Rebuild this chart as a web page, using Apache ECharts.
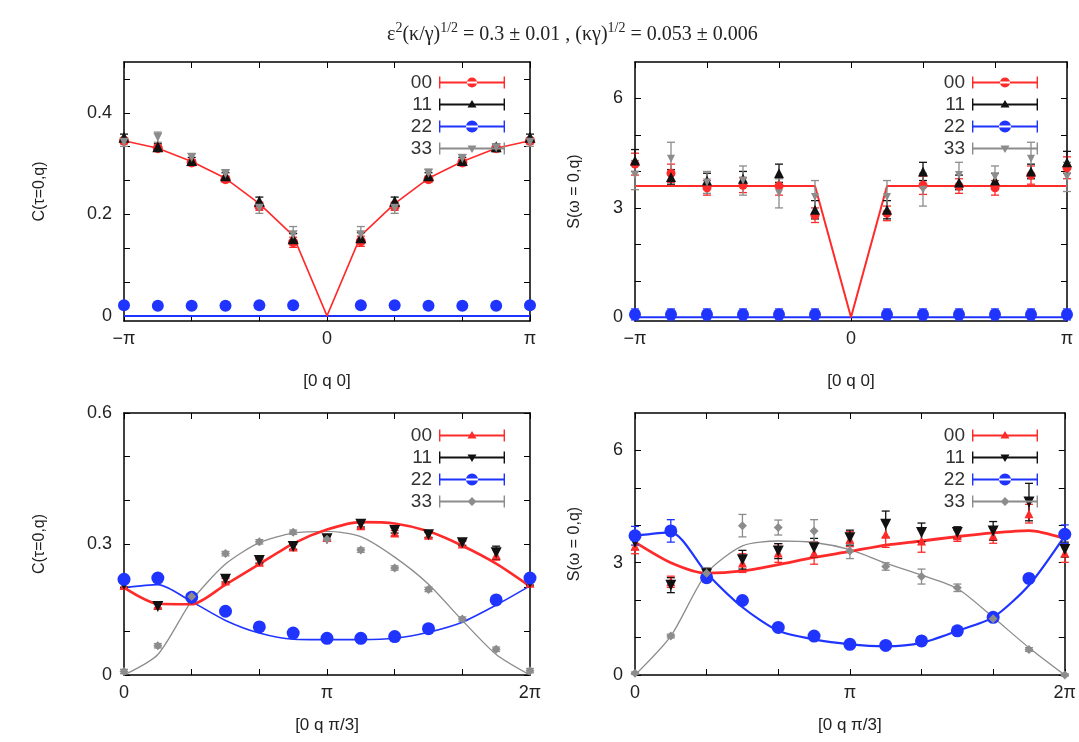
<!DOCTYPE html>
<html>
<head>
<meta charset="utf-8">
<script src="https://cdn.jsdelivr.net/npm/echarts@6/dist/echarts.min.js"></script>
<style>
  html, body { margin: 0; padding: 0; background: #fff; }
  #chartmain { width: 1079px; height: 742px; }
</style>
</head>
<body>
<div id="chartmain"></div>
<script>
// q in units of pi/6
var qTop = [-6, -5, -4, -3, -2, -1, 1, 2, 3, 4, 5, 6]
var qTopFit = [-6, -5, -4, -3, -2, -1, 0, 1, 2, 3, 4, 5, 6]
var qBot = [0, 1, 2, 3, 4, 5, 6, 7, 8, 9, 10, 11, 12]

// top left: C(tau=0,q) along [0 q 0]
var tlC00 = [0.345, 0.330, 0.302, 0.269, 0.216, 0.145, 0.147, 0.216, 0.269, 0.302, 0.330, 0.345]
var tlC00err = [0.006, 0.006, 0.006, 0.006, 0.008, 0.010, 0.010, 0.008, 0.006, 0.006, 0.006, 0.006]
var tlC11 = [0.352, 0.333, 0.306, 0.276, 0.226, 0.152, 0.154, 0.226, 0.276, 0.306, 0.333, 0.352]
var tlC11err = [0.006, 0.006, 0.006, 0.006, 0.008, 0.010, 0.010, 0.008, 0.006, 0.006, 0.006, 0.006]
var tlC22 = [0.021, 0.020, 0.020, 0.020, 0.021, 0.021, 0.021, 0.021, 0.020, 0.020, 0.020, 0.021]
var tlC22err = [0.003, 0.003, 0.003, 0.003, 0.003, 0.003, 0.003, 0.003, 0.003, 0.003, 0.003, 0.003]
var tlC33 = [0.342, 0.352, 0.312, 0.280, 0.212, 0.160, 0.160, 0.212, 0.281, 0.310, 0.331, 0.342]
var tlC33err = [0.008, 0.010, 0.008, 0.008, 0.010, 0.016, 0.016, 0.010, 0.008, 0.008, 0.008, 0.008]
var tlFit00 = [0.345, 0.330, 0.304, 0.271, 0.221, 0.158, 0, 0.158, 0.221, 0.271, 0.304, 0.330, 0.345]
var tlFit22 = [0, 0, 0, 0, 0, 0, 0, 0, 0, 0, 0, 0, 0]

// top right: S(w=0,q) along [0 q 0]
var trS00 = [4.20, 3.95, 3.55, 3.62, 3.60, 2.80, 2.85, 3.62, 3.60, 3.55, 3.90, 4.10]
var trS00err = [0.30, 0.25, 0.20, 0.20, 0.25, 0.20, 0.20, 0.25, 0.20, 0.20, 0.25, 0.30]
var trS11 = [4.30, 3.85, 3.75, 3.80, 3.95, 2.95, 2.95, 4.00, 3.70, 3.75, 4.00, 4.25]
var trS11err = [0.30, 0.20, 0.20, 0.20, 0.25, 0.25, 0.25, 0.25, 0.20, 0.20, 0.20, 0.30]
var trS22 = [0.08, 0.08, 0.08, 0.08, 0.08, 0.08, 0.08, 0.08, 0.08, 0.08, 0.08, 0.08]
var trS22err = [0.15, 0.15, 0.15, 0.15, 0.15, 0.15, 0.15, 0.15, 0.15, 0.15, 0.15, 0.15]
var trS33 = [3.90, 4.35, 3.70, 3.75, 3.40, 3.30, 3.30, 3.50, 3.90, 3.85, 4.35, 3.85]
var trS33err = [0.40, 0.45, 0.30, 0.40, 0.40, 0.45, 0.45, 0.45, 0.35, 0.30, 0.45, 0.40]
var trFit00 = [3.6, 3.6, 3.6, 3.6, 3.6, 3.6, 0, 3.6, 3.6, 3.6, 3.6, 3.6, 3.6]
var trFit22 = [0, 0, 0, 0, 0, 0, 0, 0, 0, 0, 0, 0, 0]

// bottom left: C(tau=0,q) along [0 q pi/3]
var blC00 = [0.205, 0.160, 0.172, 0.215, 0.258, 0.293, 0.315, 0.342, 0.325, 0.320, 0.300, 0.275, 0.210]
var blC00err = [0.006, 0.006, 0.006, 0.006, 0.006, 0.006, 0.006, 0.006, 0.006, 0.006, 0.006, 0.012, 0.006]
var blC11 = [0.207, 0.157, 0.174, 0.219, 0.262, 0.294, 0.312, 0.345, 0.331, 0.321, 0.303, 0.280, 0.212]
var blC11err = [0.006, 0.006, 0.006, 0.006, 0.006, 0.006, 0.006, 0.006, 0.006, 0.006, 0.006, 0.015, 0.006]
var blC22 = [0.219, 0.222, 0.178, 0.146, 0.110, 0.096, 0.084, 0.084, 0.088, 0.106, null, 0.172, 0.222]
var blC22err = [0.004, 0.004, 0.004, 0.004, 0.004, 0.004, 0.004, 0.004, 0.004, 0.004, 0.004, 0.004, 0.004]
var blC33 = [0.008, 0.067, 0.180, 0.278, 0.305, 0.327, 0.311, 0.286, 0.245, 0.196, 0.128, 0.059, 0.010]
var blC33err = [0.005, 0.005, 0.005, 0.005, 0.005, 0.005, 0.005, 0.005, 0.005, 0.005, 0.005, 0.005, 0.005]
var blFit00 = [0.200, 0.163, 0.162, 0.207, 0.254, 0.301, 0.333, 0.350, 0.347, 0.329, 0.296, 0.255, 0.203]
var blFit22 = [0.200, 0.207, 0.168, 0.125, 0.096, 0.082, 0.081, 0.081, 0.084, 0.098, 0.121, 0.160, 0.204]
var blFit33 = [0.0, 0.047, 0.170, 0.254, 0.303, 0.325, 0.329, 0.317, 0.270, 0.208, 0.125, 0.047, 0.0]

// bottom right: S(w=0,q) along [0 q pi/3]
var brS00 = [3.44, 2.49, 2.70, 2.99, 3.26, 3.26, 3.63, 3.76, 3.58, 3.72, 3.72, 4.31, 3.26]
var brS00err = [0.20, 0.15, 0.15, 0.25, 0.25, 0.30, 0.20, 0.35, 0.30, 0.15, 0.20, 0.25, 0.25]
var brS11 = [3.55, 2.40, 2.70, 3.08, 3.31, 3.40, 3.67, 4.03, 3.81, 3.81, 3.85, 4.62, 3.35]
var brS11err = [0.20, 0.20, 0.15, 0.25, 0.20, 0.25, 0.20, 0.35, 0.25, 0.15, 0.25, 0.50, 0.20]
var brS22 = [3.72, 3.85, 2.60, 1.99, 1.27, 1.04, 0.82, 0.79, 0.91, 1.18, 1.54, 2.58, 3.76]
var brS22err = [0.25, 0.30, 0.10, 0.10, 0.08, 0.08, 0.06, 0.06, 0.06, 0.08, 0.10, 0.12, 0.25]
var brS33 = [0.05, 1.04, 2.72, 3.99, 3.94, 3.85, 3.31, 2.90, 2.63, 2.33, 1.50, 0.68, 0.0]
var brS33err = [0.03, 0.05, 0.15, 0.30, 0.20, 0.30, 0.20, 0.10, 0.20, 0.10, 0.08, 0.05, 0.03]
var brFit00 = [3.55, 3.00, 2.72, 2.78, 2.95, 3.14, 3.30, 3.47, 3.58, 3.70, 3.80, 3.86, 3.65]
var brFit22 = [3.72, 3.81, 2.72, 1.81, 1.18, 0.95, 0.82, 0.77, 0.86, 1.18, 1.54, 2.40, 3.72]
var brFit33 = [0, 1.04, 2.72, 3.45, 3.58, 3.54, 3.35, 2.99, 2.67, 2.31, 1.54, 0.73, 0]

// ticks
var xTicksTop = [-6, -4, -2, 0, 2, 4, 6]
var xLabelsTop = [-6, 0, 6]
var xTicksBot = [0, 2, 4, 6, 8, 10, 12]
var xLabelsBot = [0, 6, 12]
var yTicksC0 = [0, 0.0667, 0.1333, 0.2, 0.2667, 0.3333, 0.4, 0.4667]
var yLabelsC0 = [0, 0.2, 0.4]
var yTicksS = [0, 1, 2, 3, 4, 5, 6]
var yLabelsS = [0, 3, 6]
var yTicksC = [0, 0.1, 0.2, 0.3, 0.4, 0.5, 0.6]
var yLabelsC = [0, 0.3, 0.6]
var piText = { '-6': '\u2212\u03c0', '0': '0', '6': '\u03c0', '12': '2\u03c0' }

var RED = '#ff2a2a', BLACK = '#111111', BLUE = '#1f35ff', GRAY = '#8c8c8c'
var FONT = 'Liberation Sans'

function pts(xs, ys) {
  var out = []
  for (var i = 0; i < xs.length; i++) if (ys[i] != null) out.push([xs[i], ys[i]])
  return out
}
function bars(xs, ys, es) {
  var out = []
  for (var i = 0; i < xs.length; i++) if (ys[i] != null) out.push([xs[i], ys[i] - es[i], ys[i] + es[i]])
  return out
}
function renderErr(params, api) {
  var a = api.coord([api.value(0), api.value(2)])
  var b = api.coord([api.value(0), api.value(1)])
  var c = api.visual('color')
  var st = { stroke: c, lineWidth: 1.3 }
  return {
    type: 'group',
    children: [
      { type: 'line', shape: { x1: a[0], y1: a[1], x2: b[0], y2: b[1] }, style: st },
      { type: 'line', shape: { x1: a[0] - 4, y1: a[1], x2: a[0] + 4, y2: a[1] }, style: st },
      { type: 'line', shape: { x1: b[0] - 4, y1: b[1], x2: b[0] + 4, y2: b[1] }, style: st },
    ],
  }
}

// legend samples: line with end caps and a marker in the middle (66 x 12 box)
var capPath = 'M0,0h1.4v12h-1.4Z M64.6,0h1.4v12h-1.4Z M0,5.1h66v1.8h-66Z '
var mk = {
  circle: 'M28,6a5,5 0 1,0 10,0a5,5 0 1,0 -10,0Z',
  bigcircle: 'M27,6a6,6 0 1,0 12,0a6,6 0 1,0 -12,0Z',
  triangle: 'M33,1.5L37.5,9L28.5,9Z',
  itriangle: 'M28.5,3L37.5,3L33,10.5Z',
  diamond: 'M33,1.5L37.5,6L33,10.5L28.5,6Z',
}
function legendIcons(m) {
  return m.map(function (s, i) {
    return { name: ['00', '11', '22', '33'][i], icon: 'path://' + capPath + mk[s] }
  })
}

var grids = [
  { left: 124, top: 62, width: 406, height: 259 },
  { left: 635, top: 62, width: 432, height: 259 },
  { left: 124, top: 413, width: 406, height: 262 },
  { left: 635, top: 413, width: 432, height: 262 },
]

var xAxes = [], yAxes = []
function addX(g, min, max, ticks, labels, name, gap) {
  var base = {
    type: 'value', gridIndex: g, min: min, max: max,
    splitLine: { show: false },
    axisLine: { onZero: false, lineStyle: { color: '#000', width: 1.5 } },
    axisTick: { inside: true, length: 6, customValues: ticks, lineStyle: { color: '#000' } },
  }
  xAxes.push(Object.assign({}, base, {
    position: 'bottom',
    name: name, nameLocation: 'middle', nameGap: gap,
    nameTextStyle: { fontFamily: FONT, fontSize: 17, color: '#222' },
    axisLabel: {
      customValues: labels, margin: 9, fontFamily: FONT, fontSize: 18, color: '#222',
      formatter: function (v) { return piText[String(Math.round(v))] },
    },
  }))
  xAxes.push(Object.assign({}, base, { position: 'top', axisLabel: { show: false } }))
}
function addY(g, min, max, ticks, labels, name, gap) {
  var base = {
    type: 'value', gridIndex: g, min: min, max: max,
    splitLine: { show: false },
    axisLine: { onZero: false, lineStyle: { color: '#000', width: 1.5 } },
    axisTick: { inside: true, length: 6, customValues: ticks, lineStyle: { color: '#000' } },
  }
  yAxes.push(Object.assign({}, base, {
    position: 'left',
    name: name, nameLocation: 'middle', nameGap: gap, nameRotate: 90,
    nameTextStyle: { fontFamily: FONT, fontSize: 16, color: '#222' },
    axisLabel: { customValues: labels, margin: 12, fontFamily: FONT, fontSize: 18, color: '#222' },
  }))
  yAxes.push(Object.assign({}, base, { position: 'right', axisLabel: { show: false } }))
}
addX(0, -6, 6, xTicksTop, xLabelsTop, '[0 q 0]', 52)
addY(0, -0.01, 0.5, yTicksC0, yLabelsC0, 'C(\u03c4=0,q)', 76)
addX(1, -6, 6, xTicksTop, xLabelsTop, '[0 q 0]', 52)
addY(1, -0.1, 7, yTicksS, yLabelsS, 'S(\u03c9 = 0,q)', 52)
addX(2, 0, 12, xTicksBot, xLabelsBot, '[0 q \u03c0/3]', 42)
addY(2, 0, 0.6, yTicksC, yLabelsC, 'C(\u03c4=0,q)', 76)
addX(3, 0, 12, xTicksBot, xLabelsBot, '[0 q \u03c0/3]', 42)
addY(3, 0, 7, yTicksS, yLabelsS, 'S(\u03c9 = 0,q)', 52)

var series = []
function fit(g, xs, ys, color, width, smooth) {
  series.push({
    type: 'line', name: 'fit', xAxisIndex: 2 * g, yAxisIndex: 2 * g,
    data: pts(xs, ys), showSymbol: false, smooth: smooth, z: 1,
    lineStyle: { color: color, width: width }, silent: true,
  })
}
function dat(g, name, xs, ys, es, color, symbol, size, rot) {
  series.push({
    type: 'custom', name: name, xAxisIndex: 2 * g, yAxisIndex: 2 * g,
    renderItem: renderErr, data: bars(xs, ys, es), itemStyle: { color: color },
    encode: { x: 0, y: [1, 2] }, z: 2,
  })
  series.push({
    type: 'scatter', name: name, xAxisIndex: 2 * g, yAxisIndex: 2 * g,
    data: pts(xs, ys), symbol: symbol, symbolSize: size, symbolRotate: rot || 0,
    itemStyle: { color: color, opacity: 1 }, z: 3,
  })
}

// top left
fit(0, qTopFit, tlFit22, BLUE, 2, false)
fit(0, qTopFit, tlFit00, RED, 1.6, false)
dat(0, '00', qTop, tlC00, tlC00err, RED, 'circle', 10)
dat(0, '11', qTop, tlC11, tlC11err, BLACK, 'triangle', 11)
dat(0, '22', qTop, tlC22, tlC22err, BLUE, 'circle', 12)
dat(0, '33', qTop, tlC33, tlC33err, GRAY, 'triangle', 9, 180)
// top right
fit(1, qTopFit, trFit22, BLUE, 2, false)
fit(1, qTopFit, trFit00, RED, 2, false)
dat(1, '00', qTop, trS00, trS00err, RED, 'circle', 9)
dat(1, '11', qTop, trS11, trS11err, BLACK, 'triangle', 10)
dat(1, '22', qTop, trS22, trS22err, BLUE, 'circle', 12)
dat(1, '33', qTop, trS33, trS33err, GRAY, 'triangle', 8, 180)
// bottom left
fit(2, qBot, blFit33, GRAY, 1.3, 0.25)
fit(2, qBot, blFit22, BLUE, 1.6, 0.25)
fit(2, qBot, blFit00, RED, 2.6, 0.25)
dat(2, '00', qBot, blC00, blC00err, RED, 'triangle', 9)
dat(2, '11', qBot, blC11, blC11err, BLACK, 'triangle', 11, 180)
dat(2, '22', qBot, blC22, blC22err, BLUE, 'circle', 13)
dat(2, '33', qBot, blC33, blC33err, GRAY, 'diamond', 9)
// bottom right
fit(3, qBot, brFit33, GRAY, 1.3, 0.25)
fit(3, qBot, brFit22, BLUE, 2.2, 0.25)
fit(3, qBot, brFit00, RED, 2.8, 0.25)
dat(3, '00', qBot, brS00, brS00err, RED, 'triangle', 9)
dat(3, '11', qBot, brS11, brS11err, BLACK, 'triangle', 11, 180)
dat(3, '22', qBot, brS22, brS22err, BLUE, 'circle', 13)
dat(3, '33', qBot, brS33, brS33err, GRAY, 'diamond', 9)

function legendAt(right, top, marks) {
  return {
    orient: 'vertical', right: right, top: top, align: 'right',
    itemWidth: 66, itemHeight: 12, itemGap: 3, selectedMode: false,
    textStyle: { fontFamily: FONT, fontSize: 19, color: '#333', lineHeight: 18, padding: [0, 2, 0, 0] },
    itemStyle: { borderWidth: 0 },
    data: legendIcons(marks),
  }
}

var option = {
  animation: false,
  backgroundColor: '#fff',
  color: [RED, BLACK, BLUE, GRAY],
  title: {
    left: 382, top: 16,
    text: '{n|\u03b5}{s|2}{n|(\u03ba/\u03b3)}{s|1/2}{n| = 0.3 \u00b1 0.01 , (\u03ba\u03b3)}{s|1/2}{n| = 0.053 \u00b1 0.006}',
    textStyle: {
      fontWeight: 'normal',
      rich: {
        n: { fontFamily: 'Liberation Serif', fontSize: 20, fontWeight: 'normal', color: '#222', verticalAlign: 'bottom' },
        s: { fontFamily: 'Liberation Serif', fontSize: 14, fontWeight: 'normal', color: '#222', verticalAlign: 'bottom', padding: [0, 0, 10, 0] },
      },
    },
  },
  grid: grids,
  xAxis: xAxes,
  yAxis: yAxes,
  legend: [
    legendAt(1079 - 510, 68, ['circle', 'triangle', 'bigcircle', 'itriangle']),
    legendAt(1079 - 1043, 68, ['circle', 'triangle', 'bigcircle', 'itriangle']),
    legendAt(1079 - 510, 421, ['triangle', 'itriangle', 'bigcircle', 'diamond']),
    legendAt(1079 - 1043, 421, ['triangle', 'itriangle', 'bigcircle', 'diamond']),
  ],
  series: series,
}

var myChart = echarts.init(document.getElementById('chartmain'))
myChart.setOption(option)
</script>
</body>
</html>
